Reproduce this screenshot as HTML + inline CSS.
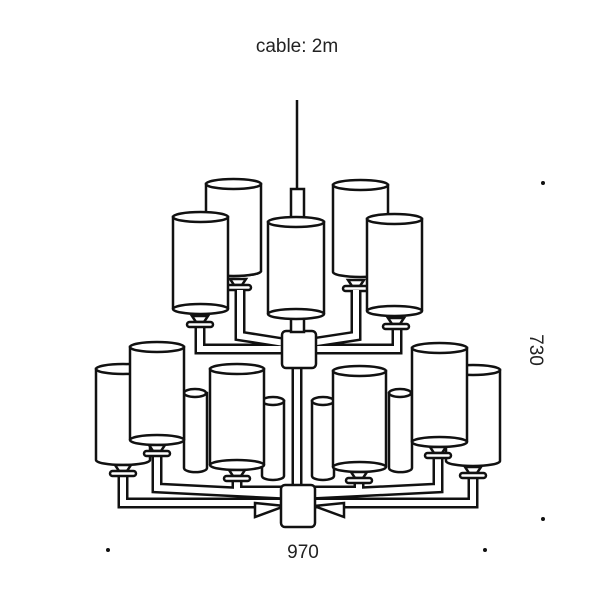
<!DOCTYPE html>
<html><head><style>body{margin:0;background:#fff}svg{display:block}</style></head><body>
<svg width="600" height="600" viewBox="0 0 600 600" xmlns="http://www.w3.org/2000/svg" font-family="Liberation Sans, sans-serif">
<defs>
<g id="h"><path d="M-8 0 L8 0 L4 6 L-4 6 Z" fill="#fff" stroke="#111" stroke-width="2.5"/><rect x="-13" y="6" width="26" height="5" rx="2.5" fill="#fff" stroke="#111" stroke-width="2.5"/></g>
</defs>
<text x="297" y="52" font-size="19" text-anchor="middle" fill="#222">cable: 2m</text>
<text x="303" y="558" font-size="19" text-anchor="middle" fill="#222">970</text>
<text x="0" y="0" font-size="19" text-anchor="middle" fill="#222" transform="translate(530,350) rotate(90)">730</text>
<g fill="#111"><circle cx="543" cy="183" r="2"/><circle cx="543" cy="519" r="2"/><circle cx="108" cy="550" r="2"/><circle cx="485" cy="550" r="2"/></g>
<g stroke="#111" stroke-width="2.5" fill="#fff">
<line x1="297" y1="100" x2="297" y2="190"/>
<rect x="291" y="189" width="13" height="30"/>
<path d="M206 184 V271 A27.5 5 0 0 0 261 271 V184 Z"/><ellipse cx="233.5" cy="184" rx="27.5" ry="5"/><path d="M206 271 A27.5 5 0 0 0 261 271"/>
<path d="M333 185 V272 A27.5 5 0 0 0 388 272 V185 Z"/><ellipse cx="360.5" cy="185" rx="27.5" ry="5"/>
<use href="#h" x="238" y="279"/><use href="#h" x="356" y="280"/>
<path d="M184 393 V468 A11 4 0 0 0 207 468 V393 Z"/><ellipse cx="195" cy="393" rx="11" ry="4"/>
<path d="M262 401 V476 A11 4 0 0 0 284 476 V401 Z"/><ellipse cx="273" cy="401" rx="11" ry="4"/>
<path d="M312 401 V476 A11 4 0 0 0 334 476 V401 Z"/><ellipse cx="323" cy="401" rx="11" ry="4"/>
<path d="M389 393 V468 A11 4 0 0 0 412 468 V393 Z"/><ellipse cx="400" cy="393" rx="11" ry="4"/>
<path d="M96 369 V460 A27 5 0 0 0 150 460 V369 Z"/><ellipse cx="123" cy="369" rx="27" ry="5"/>
<path d="M446 370 V461 A27 5 0 0 0 500 461 V370 Z"/><ellipse cx="473" cy="370" rx="27" ry="5"/>
</g>
<g fill="none" stroke-linejoin="miter">
<g stroke="#111" stroke-width="11">
<path d="M297 368 V485"/>
<path d="M200 322 V349 H297 H397 V322"/><path d="M240 290 V336 L297 345 L356 336 V290"/>
<path d="M123 470 V503 H297 H473 V470"/><path d="M157 450 V488 L297 495 L438 488 V450"/><path d="M237 476 V491 H297 H359 V476"/>
</g>
<g stroke="#fff" stroke-width="6">
<path d="M297 368 V485"/>
<path d="M200 322 V349 H297 H397 V322"/><path d="M240 290 V336 L297 345 L356 336 V290"/>
<path d="M123 470 V503 H297 H473 V470"/><path d="M157 450 V488 L297 495 L438 488 V450"/><path d="M237 476 V491 H297 H359 V476"/>
</g>
</g>
<g stroke="#111" stroke-width="2.5" fill="#fff">
<path d="M255 503 L255 517 L285 506 Z"/><path d="M344 503 L344 517 L314 506 Z"/>
<rect x="282" y="331" width="34" height="37" rx="4"/>
<rect x="281" y="485" width="34" height="42" rx="4"/>
<rect x="291" y="318" width="13" height="14"/>
<path d="M173 217 V309 A27.5 5 0 0 0 228 309 V217 Z"/><ellipse cx="200.5" cy="217" rx="27.5" ry="5"/><path d="M173 309 A27.5 5 0 0 1 228 309"/>
<path d="M268 222 V314 A28 5 0 0 0 324 314 V222 Z"/><ellipse cx="296" cy="222" rx="28" ry="5"/><path d="M268 314 A28 5 0 0 1 324 314"/>
<path d="M367 219 V311 A27.5 5 0 0 0 422 311 V219 Z"/><ellipse cx="394.5" cy="219" rx="27.5" ry="5"/><path d="M367 311 A27.5 5 0 0 1 422 311"/>
<use href="#h" x="200" y="316"/><use href="#h" x="396" y="318"/>
<path d="M130 347 V440 A27 5 0 0 0 184 440 V347 Z"/><ellipse cx="157" cy="347" rx="27" ry="5"/><path d="M130 440 A27 5 0 0 1 184 440"/>
<path d="M210 369 V465 A27 5 0 0 0 264 465 V369 Z"/><ellipse cx="237" cy="369" rx="27" ry="5"/><path d="M210 465 A27 5 0 0 1 264 465"/>
<path d="M333 371 V467 A26.5 5 0 0 0 386 467 V371 Z"/><ellipse cx="359.5" cy="371" rx="26.5" ry="5"/><path d="M333 467 A26.5 5 0 0 1 386 467"/>
<path d="M412 348 V442 A27.5 5 0 0 0 467 442 V348 Z"/><ellipse cx="439.5" cy="348" rx="27.5" ry="5"/><path d="M412 442 A27.5 5 0 0 1 467 442"/>
<use href="#h" x="123" y="465"/><use href="#h" x="157" y="445"/><use href="#h" x="237" y="470"/>
<use href="#h" x="359" y="472"/><use href="#h" x="438" y="447"/><use href="#h" x="473" y="467"/>
</g>
</svg>
</body></html>
